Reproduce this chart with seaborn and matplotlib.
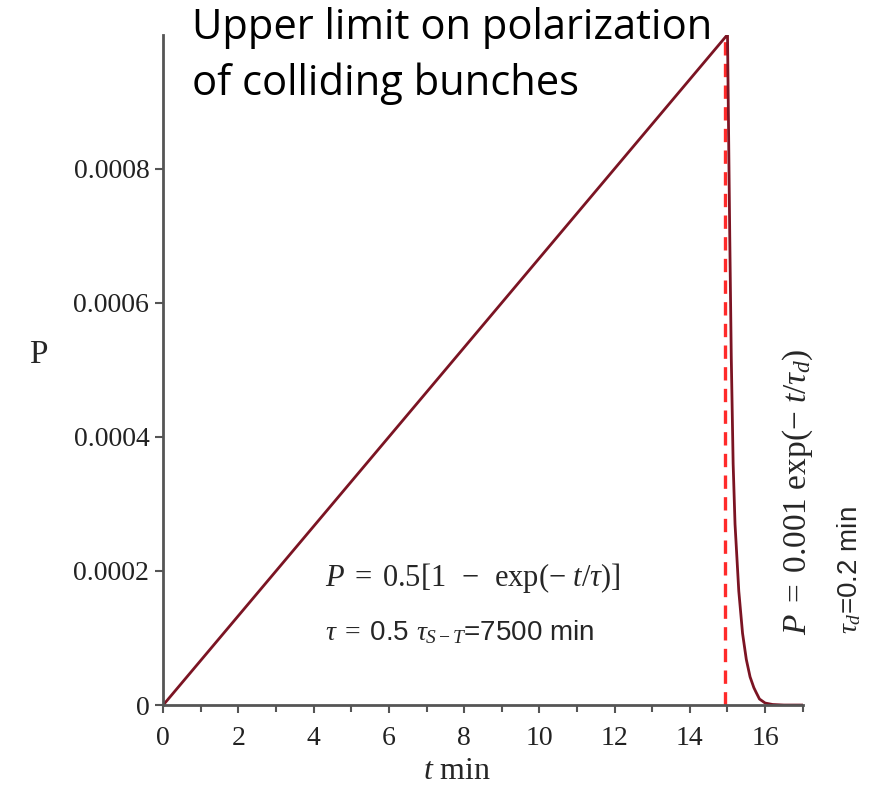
import numpy as np
import pandas as pd
import matplotlib
matplotlib.use("Agg")
import matplotlib.pyplot as plt
import seaborn as sns

# Data
rise_t = [0.0, 15.0]
rise_P = [0.0, 0.001]
decay_t = [15.0, 15.03, 15.06, 15.1, 15.15, 15.2, 15.3, 15.4, 15.5, 15.6, 15.7, 15.76, 15.85, 16.0, 16.2, 16.5, 17.0]
decay_P = [0.001, 0.00085, 0.00070, 0.00052, 0.00036, 0.00027, 0.00017, 0.000107, 0.000068,
           0.000042, 0.000026, 0.000019, 0.000009, 0.000003, 0.0000008, 0.0, 0.0]
dash_t = [14.93, 14.93]
dash_P = [0.0, 0.001]

x_ticks = [0, 2, 4, 6, 8, 10, 12, 14, 16]
y_ticks = [0, 0.0002, 0.0004, 0.0006, 0.0008]
y_tick_labels = ["0", "0.0002", "0.0004", "0.0006", "0.0008"]

df = pd.DataFrame({"t": rise_t + decay_t[1:], "P": rise_P + decay_P[1:]})
dd = pd.DataFrame({"t": dash_t, "P": dash_P})

sns.set_style("white")
plt.rcParams["mathtext.fontset"] = "custom"
plt.rcParams["mathtext.rm"] = "Liberation Serif"
plt.rcParams["mathtext.it"] = "Liberation Serif:italic"
plt.rcParams["mathtext.bf"] = "Liberation Serif:bold"
plt.rcParams["mathtext.fallback"] = "stix"

fig = plt.figure(figsize=(8.87, 7.86), dpi=100)
ax = fig.add_axes([0.184, 0.103, 0.721, 0.853])

sns.lineplot(data=dd, x="t", y="P", ax=ax, color="#ff2a2a", lw=2.4,
             linestyle=(0, (4, 2.5)), estimator=None, sort=False)
sns.lineplot(data=df, x="t", y="P", ax=ax, color="#7b1423", lw=2.0,
             estimator=None, sort=False)

ax.set_xlim(0, 17)
ax.set_ylim(0, 0.001)
for s in ["top", "right"]:
    ax.spines[s].set_visible(False)
for s in ["left", "bottom"]:
    ax.spines[s].set_color("#555555")
    ax.spines[s].set_linewidth(2)

serif = "Liberation Serif"
ax.set_xticks(x_ticks)
ax.set_xticks(range(0, 18), minor=True)
ax.set_yticks(y_ticks)
ax.set_yticklabels(y_tick_labels)
ax.tick_params(axis="both", which="major", direction="out", length=6, width=1.5,
               color="#555555", labelsize=20, left=True, bottom=True)
ax.tick_params(axis="x", which="major", pad=9)
ax.tick_params(axis="y", which="major", pad=4)
ax.tick_params(axis="x", which="minor", direction="out", length=5, width=1.5,
               color="#555555", bottom=True)
for lbl in ax.get_xticklabels() + ax.get_yticklabels():
    lbl.set_family(serif)
    lbl.set_color("#222222")

ax.set_xlabel("$t$ min", fontsize=23, family=serif)
ax.xaxis.label.set_va("center")
ax.xaxis.set_label_coords(0.46, -0.099)
ax.set_ylabel("P", fontsize=24, family=serif, rotation=0)
ax.yaxis.set_label_coords(-0.196, 0.5)

fig.text(0.216, 0.965, "Upper limit on polarization", fontsize=30, family="Open Sans",
         va="center", ha="left", color="black")
fig.text(0.216, 0.893, "of colliding bunches", fontsize=30, family="Open Sans",
         va="center", ha="left", color="black")

ax.text(0.253, 0.19, r"$P\;=\;$0.5[1 $\,-\,$ exp($-\ t/\tau$)]", transform=ax.transAxes,
        fontsize=22, ha="left", va="center", family=serif)
ax.text(0.253, 0.109, r"$\tau\;=\;$0.5 $\tau_{S-T}$=7500 min", transform=ax.transAxes,
        fontsize=20, ha="left", va="center", family="Liberation Sans")

fig.text(0.899, 0.374, r"$P\;=\;$0.001 exp($-\ t/\tau_d$)", rotation=90, fontsize=24,
         ha="center", va="center", family=serif)
fig.text(0.957, 0.275, r"$\tau_d$=0.2 min", rotation=90, fontsize=20,
         ha="center", va="center", family="Liberation Sans")

fig.savefig("out.png", dpi=100)
